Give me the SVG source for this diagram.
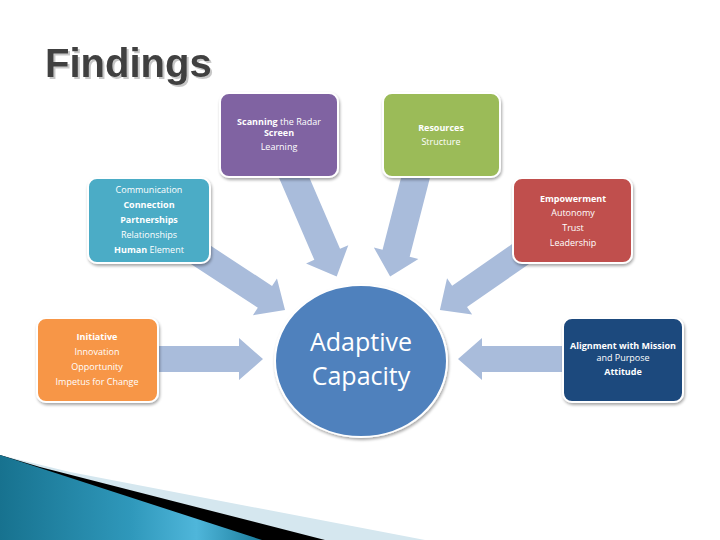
<svg xmlns="http://www.w3.org/2000/svg" width="720" height="540" viewBox="0 0 720 540">
<defs>
<style>
.box{stroke:#ffffff;stroke-width:2;filter:url(#sh)}
.t{font-family:"Open Sans","Liberation Sans",sans-serif;font-size:9px;fill:#ffffff;text-anchor:middle}
.b{font-weight:bold}
.arr{fill:#A9BCDB}
.big{font-family:"Open Sans","Liberation Sans",sans-serif;font-size:25px;fill:#ffffff;text-anchor:middle}
</style>
<filter id="sh" x="-10%" y="-10%" width="125%" height="125%">
<feGaussianBlur in="SourceAlpha" stdDeviation="1.5"/>
<feOffset dx="1" dy="2" result="o"/>
<feComponentTransfer><feFuncA type="linear" slope="0.35"/></feComponentTransfer>
<feMerge><feMergeNode/><feMergeNode in="SourceGraphic"/></feMerge>
</filter>
<filter id="tsh" x="-5%" y="-10%" width="115%" height="130%">
<feOffset in="SourceAlpha" dx="2" dy="2" result="o"/>
<feComponentTransfer in="o" result="c"><feFuncA type="linear" slope="0.22"/></feComponentTransfer>
<feMerge><feMergeNode in="c"/><feMergeNode in="SourceGraphic"/></feMerge>
</filter>
<linearGradient id="tg" x1="0" y1="0" x2="1" y2="0">
<stop offset="0" stop-color="#17728f"/>
<stop offset="0.5" stop-color="#2f98bb"/>
<stop offset="0.75" stop-color="#4fb6da"/>
<stop offset="1" stop-color="#1b7c9c"/>
</linearGradient>
</defs>
<rect width="720" height="540" fill="#ffffff"/>
<g id="title">
<text x="45" y="77" font-family="'Liberation Sans',Arial,sans-serif" font-weight="bold" font-size="40" fill="#404040" filter="url(#tsh)">Findings</text>
</g>
<g id="decor">
<polygon points="0,455 70,472 425,540 0,540" fill="#d5e7ef"/>
<polygon points="0,455 40,467 325,540 0,540" fill="#000000"/>
<polygon points="0,455 262,540 0,540" fill="url(#tg)"/>
</g>
<g id="connectors">
<polygon class="arr" points="0,-14 94,-14 94,-23 118,0 94,23 94,14 0,14" transform="translate(290,168) rotate(66.7)"/>
<polygon class="arr" points="0,-14 88,-14 88,-23 112,0 88,23 88,14 0,14" transform="translate(418,168) rotate(104.4)"/>
<polygon class="arr" points="0,-13 80,-13 80,-22 104,0 80,22 80,13 0,13" transform="translate(198,253) rotate(33.2)"/>
<polygon class="arr" points="0,-13 76,-13 76,-22 100,0 76,22 76,13 0,13" transform="translate(522,253) rotate(145.2)"/>
<polygon class="arr" points="0,-13 84,-13 84,-21 108,0 84,21 84,13 0,13" transform="translate(155,359)"/>
<polygon class="arr" points="0,-13 86,-13 86,-21 110,0 86,21 86,13 0,13" transform="translate(568,359) rotate(180)"/>
</g>
<g id="scanning">
<rect class="box" x="220" y="93" width="118" height="84" rx="9" fill="#8064A2"/>
<text class="t" x="279" y="125"><tspan class="b">Scanning</tspan> the Radar</text>
<text class="t b" x="279" y="136">Screen</text>
<text class="t" x="279" y="150">Learning</text>
</g>
<g id="resources">
<rect class="box" x="383" y="93" width="117" height="84" rx="9" fill="#9BBB59"/>
<text class="t b" x="441" y="131">Resources</text>
<text class="t" x="441" y="145">Structure</text>
</g>
<g id="communication">
<rect class="box" x="88" y="178" width="122" height="85" rx="9" fill="#4BACC6"/>
<text class="t" x="149" y="193">Communication</text>
<text class="t b" x="149" y="208">Connection</text>
<text class="t b" x="149" y="223">Partnerships</text>
<text class="t" x="149" y="238">Relationships</text>
<text class="t" x="149" y="253"><tspan class="b">Human</tspan> Element</text>
</g>
<g id="empowerment">
<rect class="box" x="513" y="178" width="119" height="85" rx="9" fill="#C0504D"/>
<text class="t b" x="573" y="202">Empowerment</text>
<text class="t" x="573" y="216">Autonomy</text>
<text class="t" x="573" y="231">Trust</text>
<text class="t" x="573" y="246">Leadership</text>
</g>
<g id="initiative">
<rect class="box" x="37" y="318" width="121" height="84" rx="9" fill="#F79646"/>
<text class="t b" x="97" y="340">Initiative</text>
<text class="t" x="97" y="355">Innovation</text>
<text class="t" x="97" y="370">Opportunity</text>
<text class="t" x="97" y="385">Impetus for Change</text>
</g>
<g id="alignment">
<rect class="box" x="563" y="318" width="120" height="84" rx="9" fill="#1F497D"/>
<text class="t b" x="623" y="349">Alignment with Mission</text>
<text class="t" x="623" y="361" font-size="8.5">and Purpose</text>
<text class="t b" x="623" y="375">Attitude</text>
</g>
<g id="adaptive">
<ellipse cx="361" cy="361" rx="86" ry="76" fill="#4F81BD" stroke="#ffffff" stroke-width="2" filter="url(#sh)"/>
<text class="big" x="361" y="351">Adaptive</text>
<text class="big" x="361" y="385">Capacity</text>
</g>
</svg>
